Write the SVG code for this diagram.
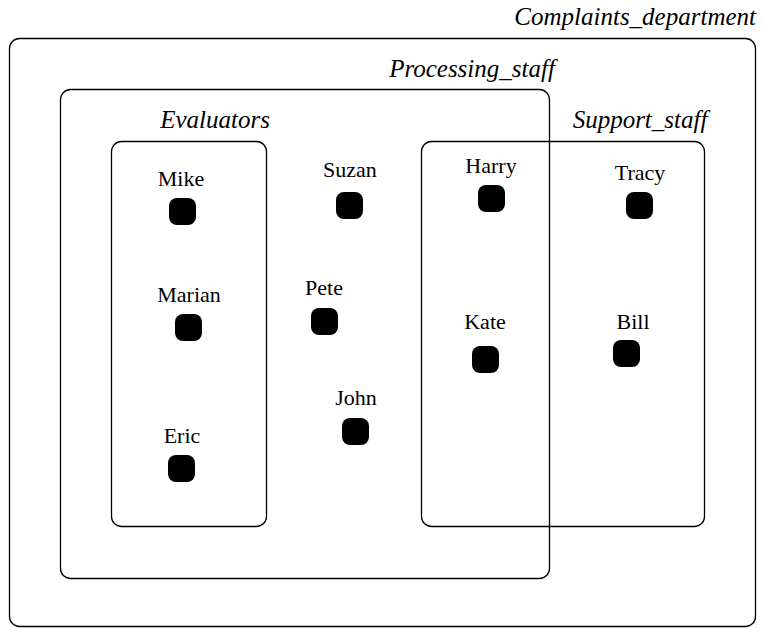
<svg xmlns="http://www.w3.org/2000/svg" width="766" height="628" viewBox="0 0 766 628">
<style>
.box{fill:none;stroke:#000;stroke-width:1.3}
.lbl{font-family:"Liberation Serif",serif;font-style:italic;font-size:25px;fill:#000}
.nm{font-family:"Liberation Serif",serif;font-size:22px;fill:#000;text-anchor:middle}
.dot{fill:#000}
</style>
<rect width="766" height="628" fill="#fff"/>
<g id="Complaints_department">
<rect class="box" x="9.5" y="38.5" width="746" height="588" rx="10"/>
<text class="lbl" x="756" y="25" text-anchor="end">Complaints_department</text>
</g>
<g id="Processing_staff">
<rect class="box" x="60.5" y="89.5" width="489" height="489" rx="10"/>
<text class="lbl" x="472" y="77" text-anchor="middle">Processing_staff</text>
</g>
<g id="Evaluators">
<rect class="box" x="111.5" y="141.5" width="155" height="385" rx="10"/>
<text class="lbl" x="215" y="128" text-anchor="middle">Evaluators</text>
</g>
<g id="Support_staff">
<rect class="box" x="421.5" y="141.5" width="283" height="385" rx="10"/>
<text class="lbl" x="640" y="128" text-anchor="middle">Support_staff</text>
</g>
<g id="Mike"><text class="nm" x="181" y="186">Mike</text><rect class="dot" x="169" y="198" width="27" height="27" rx="8"/></g>
<g id="Marian"><text class="nm" x="189" y="302">Marian</text><rect class="dot" x="175" y="314" width="27" height="27" rx="8"/></g>
<g id="Eric"><text class="nm" x="182" y="443">Eric</text><rect class="dot" x="168" y="455" width="27" height="27" rx="8"/></g>
<g id="Suzan"><text class="nm" x="350" y="177">Suzan</text><rect class="dot" x="336" y="192" width="27" height="27" rx="8"/></g>
<g id="Pete"><text class="nm" x="324" y="295">Pete</text><rect class="dot" x="311" y="308" width="27" height="27" rx="8"/></g>
<g id="John"><text class="nm" x="356" y="405">John</text><rect class="dot" x="342" y="418" width="27" height="27" rx="8"/></g>
<g id="Harry"><text class="nm" x="491" y="173">Harry</text><rect class="dot" x="478" y="185" width="27" height="27" rx="8"/></g>
<g id="Kate"><text class="nm" x="485" y="329">Kate</text><rect class="dot" x="472" y="346" width="27" height="27" rx="8"/></g>
<g id="Tracy"><text class="nm" x="640" y="180">Tracy</text><rect class="dot" x="626" y="192" width="27" height="27" rx="8"/></g>
<g id="Bill"><text class="nm" x="633" y="329">Bill</text><rect class="dot" x="613" y="340" width="27" height="27" rx="8"/></g>
<g id="connectors"></g>
</svg>
